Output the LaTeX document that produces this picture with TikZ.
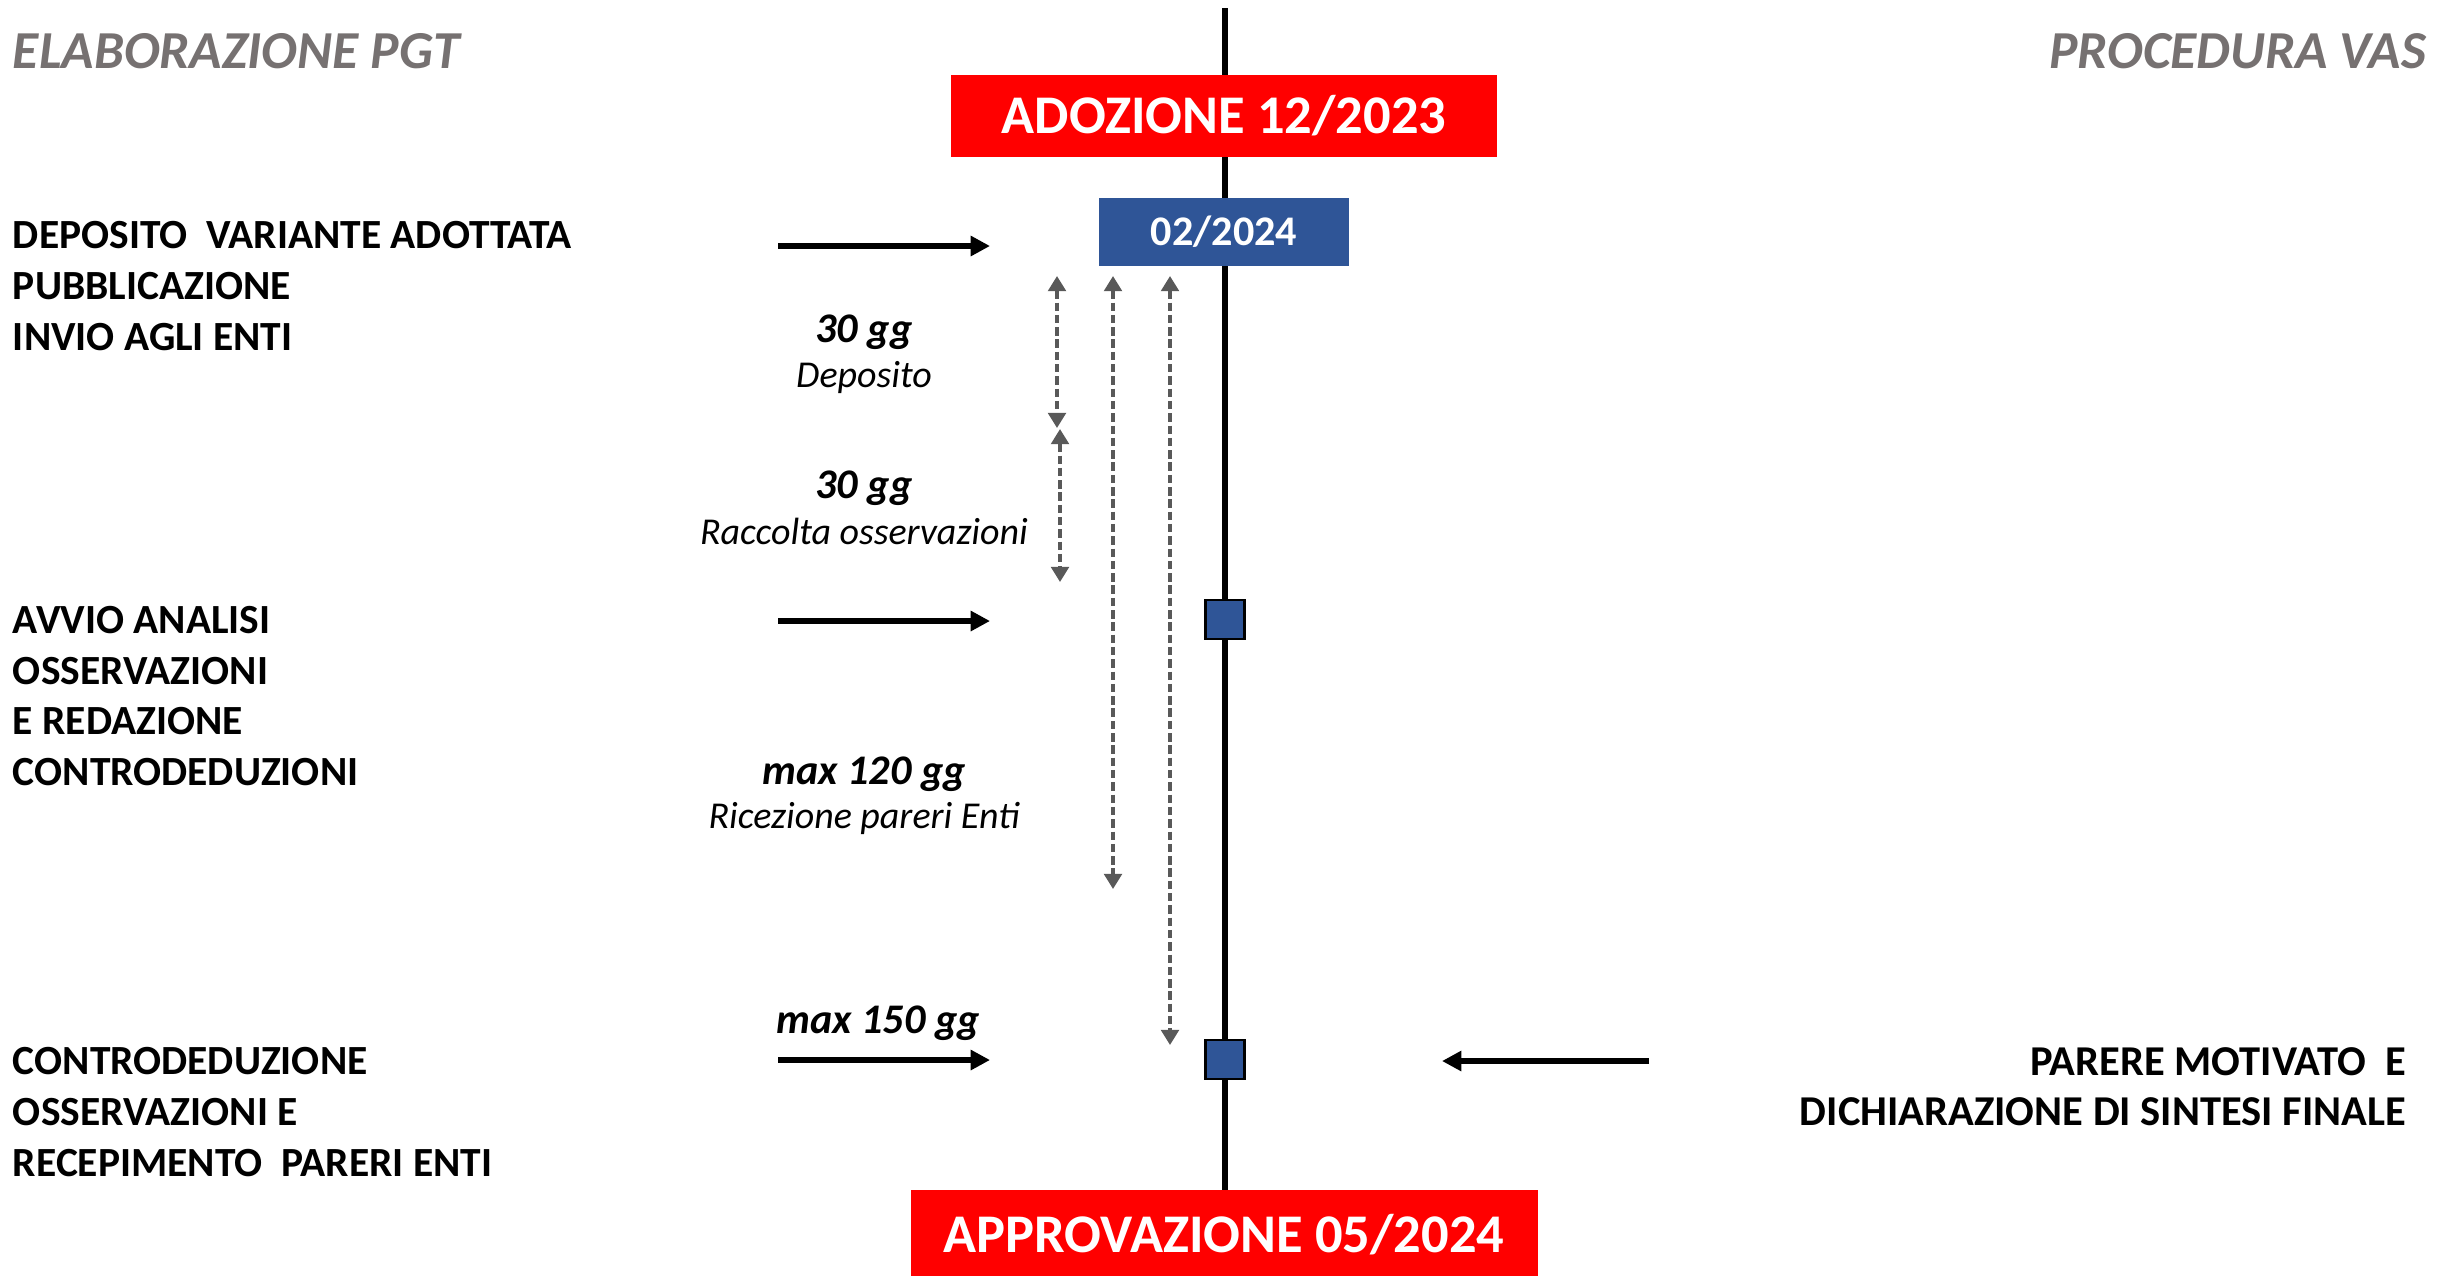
\documentclass[tikz,border=0pt]{standalone}
\usepackage{fontspec}
\setmainfont{Carlito}
\usetikzlibrary{arrows.meta,positioning}
\definecolor{vasred}{HTML}{FF0000}
\definecolor{vasblue}{HTML}{2F5597}
\definecolor{titlegray}{HTML}{767171}
\definecolor{dashgray}{HTML}{595959}

\begin{document}
\begin{tikzpicture}[
    every node/.style={inner sep=0pt, outer sep=0pt},
    milestone/.style={rectangle, fill=vasred, text=white, font=\fontsize{15.5}{18}\selectfont\bfseries},
    datebox/.style={rectangle, fill=vasblue, text=white, font=\fontsize{12}{14}\selectfont\bfseries, minimum width=2.5cm, minimum height=0.68cm},
    checkpt/.style={rectangle, fill=vasblue, draw=black, line width=0.8pt, minimum size=0.39cm},
    phase/.style={font=\fontsize{11.8}{14.4}\selectfont\bfseries},
    heading/.style={text=titlegray, font=\fontsize{15.2}{18}\selectfont\bfseries\itshape},
    dur/.style={font=\fontsize{12}{14}\selectfont\bfseries\itshape, anchor=base},
    durtext/.style={font=\fontsize{10.8}{13}\selectfont\itshape, anchor=base},
    phasearrow/.style={-{Triangle[length=5.5pt,width=5.5pt]}, line width=1.6pt},
    span/.style={{Triangle[length=4.3pt,width=5pt]}-{Triangle[length=4.3pt,width=5pt]}, dashgray, line width=1pt, dash pattern=on 2.4pt off 1.1pt}
]
    \useasboundingbox (0,0) rectangle (24.4,-12.75);

    % Timeline
    \coordinate (axistop) at (12.25,-0.08);
    \coordinate (axisbot) at (12.25,-12.0);
    \draw[line width=1.7pt] (axistop) -- (axisbot);

    % Headings
    \node[heading, anchor=west] (pgt) at (0.13,-0.51) {ELABORAZIONE PGT};
    \node[heading, anchor=east] (vas) at (24.26,-0.51) {PROCEDURA VAS};

    % Milestones
    \node[milestone, minimum width=5.46cm, minimum height=0.82cm] (adozione) at (12.24,-1.16) {ADOZIONE 12/2023};
    \node[datebox] (deposito) at (12.24,-2.32) {02/2024};
    \node[checkpt] (avvio) at (12.25,-6.195) {};
    \node[checkpt] (parere) at (12.25,-10.595) {};
    \node[milestone, minimum width=6.27cm, minimum height=0.9cm] (approvazione) at (12.24,-12.35) {APPROVAZIONE 05/2024};

    % Phases PGT
    \node[phase, anchor=west, align=left] (fase1) at (0.13,-2.86) {DEPOSITO\ \ VARIANTE ADOTTATA\\PUBBLICAZIONE\\INVIO AGLI ENTI};
    \node[phase, anchor=west, align=left] (fase2) at (0.13,-6.96) {AVVIO ANALISI\\OSSERVAZIONI\\E REDAZIONE\\CONTRODEDUZIONI};
    \node[phase, anchor=west, align=left] (fase3) at (0.13,-11.12) {CONTRODEDUZIONE\\OSSERVAZIONI E\\RECEPIMENTO\ \ PARERI ENTI};

    % Phase VAS
    \node[phase, font=\fontsize{12.1}{14.4}\selectfont\bfseries, anchor=east, align=right] (fasevas) at (24.06,-10.865) {PARERE MOTIVATO\ \ E\\DICHIARAZIONE DI SINTESI FINALE};

    % Durations
    \node[dur] (gg1) at (8.64,-3.42) {30 gg};
    \node[durtext] (gg1txt) at (8.64,-3.87) {Deposito};
    \node[dur] (gg2) at (8.64,-4.98) {30 gg};
    \node[durtext] (gg2txt) at (8.64,-5.44) {Raccolta osservazioni};
    \node[dur] (gg3) at (8.64,-7.84) {max 120 gg};
    \node[durtext] (gg3txt) at (8.64,-8.28) {Ricezione pareri Enti};
    \node[dur] (gg4) at (8.78,-10.33) {max 150 gg};

    % Arrow ends
    \coordinate (in1) at (7.78,-2.46);   \coordinate (out1) at (9.90,-2.46);
    \coordinate (in2) at (7.78,-6.21);   \coordinate (out2) at (9.90,-6.21);
    \coordinate (in3) at (7.78,-10.60);  \coordinate (out3) at (9.90,-10.60);
    \coordinate (vasin) at (16.49,-10.61); \coordinate (vasout) at (14.42,-10.61);

    \coordinate (s1a) at (10.57,-2.76);  \coordinate (s1b) at (10.57,-4.28);
    \coordinate (s2a) at (10.60,-4.29);  \coordinate (s2b) at (10.60,-5.82);
    \coordinate (s3a) at (11.13,-2.76);  \coordinate (s3b) at (11.13,-8.89);
    \coordinate (s4a) at (11.70,-2.76);  \coordinate (s4b) at (11.70,-10.45);

    % Edges
    \draw[phasearrow] (in1) -- (out1);
    \draw[phasearrow] (in2) -- (out2);
    \draw[phasearrow] (in3) -- (out3);
    \draw[phasearrow] (vasin) -- (vasout);

    \draw[span] (s1a) -- (s1b);
    \draw[span] (s2a) -- (s2b);
    \draw[span] (s3a) -- (s3b);
    \draw[span] (s4a) -- (s4b);
\end{tikzpicture}
\end{document}
